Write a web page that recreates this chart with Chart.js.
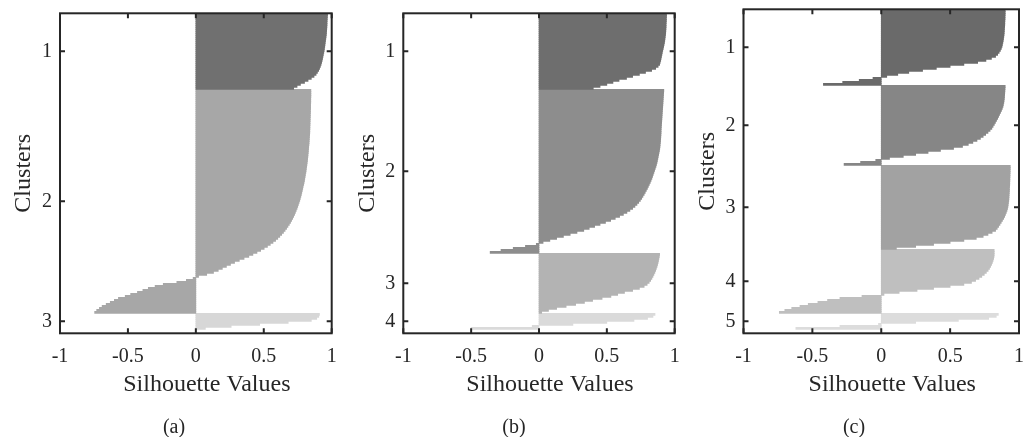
<!DOCTYPE html>
<html>
<head>
<meta charset="utf-8">
<script src="https://cdn.jsdelivr.net/npm/chart.js@4.4.1/dist/chart.umd.min.js"></script>
<style>
  html, body { margin: 0; padding: 0; background: #fff; }
  body { position: relative; width: 1030px; height: 437px; overflow: hidden; font-family: 'Liberation Serif', serif; }
  canvas { position: absolute; top: 0; }
  .cap { position: absolute; top: 414px; width: 100px; text-align: center; font-size: 20px; line-height: 24px; color: #262626; }
</style>
</head>
<body>
<canvas id="chartA" width="340" height="437" style="left:0"></canvas>
<canvas id="chartB" width="340" height="437" style="left:340px"></canvas>
<canvas id="chartC" width="350" height="437" style="left:680px"></canvas>
<div class="cap" style="left:124px">(a)</div>
<div class="cap" style="left:464px">(b)</div>
<div class="cap" style="left:804px">(c)</div>
<script>
// silhouette values, sorted inside each cluster (one bar per row)

// (a) 3 clusters
const clusterNamesA = ['1', '2', '3'];
const silA1 = [0.97, 0.969, 0.968, 0.967, 0.966, 0.966, 0.965, 0.964, 0.963, 0.962,
  0.961, 0.959, 0.957, 0.955, 0.953, 0.951, 0.949, 0.947, 0.945, 0.942,
  0.939, 0.936, 0.933, 0.93, 0.926, 0.922, 0.917, 0.911, 0.904, 0.895,
  0.885, 0.87, 0.85, 0.826, 0.8, 0.77, 0.745, 0.72];
const silA2 = [0.847, 0.847, 0.847, 0.847, 0.846, 0.846, 0.846, 0.845, 0.845, 0.845,
  0.844, 0.844, 0.843, 0.843, 0.842, 0.842, 0.841, 0.841, 0.84, 0.84,
  0.839, 0.839, 0.838, 0.837, 0.836, 0.835, 0.834, 0.833, 0.831, 0.83,
  0.829, 0.828, 0.826, 0.825, 0.823, 0.822, 0.82, 0.818, 0.816, 0.814,
  0.812, 0.81, 0.807, 0.805, 0.802, 0.8, 0.797, 0.794, 0.79, 0.787,
  0.784, 0.78, 0.777, 0.773, 0.769, 0.765, 0.76, 0.755, 0.75, 0.745,
  0.739, 0.733, 0.727, 0.72, 0.713, 0.705, 0.697, 0.688, 0.678, 0.668,
  0.657, 0.645, 0.632, 0.618, 0.603, 0.587, 0.568, 0.548, 0.527, 0.503,
  0.477, 0.45, 0.42, 0.39, 0.355, 0.32, 0.285, 0.255, 0.225, 0.195,
  0.165, 0.13, 0.08, 0.02, -0.02, -0.07, -0.14, -0.24, -0.3, -0.35,
  -0.39, -0.43, -0.48, -0.52, -0.57, -0.6, -0.63, -0.66, -0.69, -0.71,
  -0.73, -0.745];
const silA3 = [0.91, 0.905, 0.89, 0.85, 0.68, 0.47, 0.26, 0.07];

// (b) 4 clusters
const clusterNamesB = ['1', '2', '3', '4'];
const silB1 = [0.94, 0.94, 0.939, 0.939, 0.938, 0.937, 0.937, 0.936, 0.935, 0.934,
  0.933, 0.931, 0.929, 0.927, 0.925, 0.922, 0.919, 0.916, 0.912, 0.909,
  0.906, 0.903, 0.9, 0.897, 0.893, 0.889, 0.878, 0.86, 0.83, 0.785,
  0.74, 0.69, 0.645, 0.59, 0.545, 0.5, 0.45, 0.4];
const silB2 = [0.92, 0.919, 0.918, 0.917, 0.916, 0.915, 0.914, 0.913, 0.912, 0.911,
  0.91, 0.909, 0.908, 0.907, 0.906, 0.905, 0.904, 0.903, 0.902, 0.901,
  0.9, 0.9, 0.899, 0.898, 0.897, 0.896, 0.895, 0.893, 0.892, 0.89,
  0.888, 0.885, 0.882, 0.879, 0.876, 0.873, 0.87, 0.866, 0.862, 0.857,
  0.852, 0.847, 0.842, 0.837, 0.832, 0.826, 0.82, 0.813, 0.806, 0.799,
  0.791, 0.783, 0.775, 0.766, 0.757, 0.747, 0.735, 0.722, 0.707, 0.69,
  0.67, 0.648, 0.622, 0.594, 0.562, 0.528, 0.49, 0.45, 0.41, 0.37,
  0.33, 0.28, 0.23, 0.18, 0.13, 0.08, 0.03, -0.02, -0.1, -0.19,
  -0.28, -0.36];
const silB3 = [0.889, 0.887, 0.884, 0.881, 0.878, 0.874, 0.87, 0.865, 0.86, 0.854,
  0.847, 0.84, 0.832, 0.823, 0.812, 0.797, 0.775, 0.74, 0.69, 0.63,
  0.58, 0.53, 0.465, 0.395, 0.335, 0.27, 0.2, 0.13, 0.07, 0.02];
const silB4 = [0.855, 0.84, 0.8, 0.7, 0.5, 0.25, -0.05, -0.5];

// (c) 5 clusters
const clusterNamesC = ['1', '2', '3', '4', '5'];
const silC1 = [0.9, 0.9, 0.9, 0.899, 0.899, 0.898, 0.897, 0.897, 0.896, 0.895,
  0.894, 0.893, 0.892, 0.89, 0.888, 0.886, 0.883, 0.88, 0.877, 0.872,
  0.865, 0.856, 0.845, 0.83, 0.8, 0.76, 0.7, 0.6, 0.5, 0.4,
  0.3, 0.2, 0.12, 0.04, -0.06, -0.16, -0.28, -0.42];
const silC2 = [0.9, 0.899, 0.898, 0.897, 0.896, 0.895, 0.894, 0.892, 0.89, 0.887,
  0.884, 0.879, 0.873, 0.866, 0.859, 0.852, 0.845, 0.837, 0.829, 0.821,
  0.812, 0.803, 0.79, 0.775, 0.758, 0.74, 0.72, 0.695, 0.665, 0.632,
  0.59, 0.525, 0.43, 0.34, 0.25, 0.16, 0.06, -0.04, -0.15, -0.27];
const silC3 = [0.937, 0.937, 0.936, 0.936, 0.935, 0.935, 0.934, 0.934, 0.933, 0.933,
  0.932, 0.931, 0.931, 0.93, 0.929, 0.928, 0.927, 0.926, 0.924, 0.922,
  0.92, 0.917, 0.913, 0.908, 0.902, 0.896, 0.889, 0.88, 0.871, 0.862,
  0.852, 0.842, 0.83, 0.805, 0.775, 0.74, 0.69, 0.6, 0.5, 0.38,
  0.25, 0.11];
const silC4 = [0.82, 0.82, 0.82, 0.819, 0.816, 0.812, 0.807, 0.801, 0.794, 0.786,
  0.776, 0.763, 0.748, 0.73, 0.71, 0.685, 0.655, 0.6, 0.5, 0.38,
  0.26, 0.13, 0.02, -0.14, -0.3, -0.39, -0.46, -0.53, -0.59, -0.65,
  -0.7, -0.74];
const silC5 = [0.85, 0.835, 0.78, 0.56, 0.25, -0.02, -0.3, -0.62];

const greysA = ['#707070', '#a7a7a7', '#d7d7d7'];
const greysB = ['#6e6e6e', '#8d8d8d', '#b3b3b3', '#dadada'];
const greysC = ['#6a6a6a', '#868686', '#a2a2a2', '#bfbfbf', '#dcdcdc'];

const ink = '#262626';
const serif = 'Liberation Serif';

// matlab style box with inward ticks on all four sides, plus the x label
// (matlab puts it a little right of the axis centre)
const matlabFrame = {
    id: 'matlabFrame',
    afterDraw(chart) {
        const {ctx, chartArea: a, scales: {x, y}} = chart;
        ctx.save();
        ctx.strokeStyle = ink;
        ctx.lineWidth = 2;
        ctx.strokeRect(a.left, a.top, a.right - a.left, a.bottom - a.top);
        ctx.beginPath();
        x.ticks.forEach(t => {
            const px = x.getPixelForValue(t.value);
            ctx.moveTo(px, a.bottom);
            ctx.lineTo(px, a.bottom - 5);
            ctx.moveTo(px, a.top);
            ctx.lineTo(px, a.top + 5);
        });
        y.ticks.forEach(t => {
            const py = y.getPixelForValue(t.value);
            ctx.moveTo(a.left, py);
            ctx.lineTo(a.left + 5, py);
            ctx.moveTo(a.right, py);
            ctx.lineTo(a.right - 5, py);
        });
        ctx.stroke();

        ctx.fillStyle = ink;
        ctx.font = '24px "' + serif + '"';
        ctx.textAlign = 'center';
        ctx.textBaseline = 'middle';
        ctx.fillText('Silhouette Values', (a.left + a.right) / 2 + 11, a.bottom + 51);
        ctx.restore();
    }
};

function drawPanel(id, clusters, names, greys, pad) {
    let row = 0;
    const centers = [];
    const datasets = clusters.map((vals, i) => {
        const start = row;
        const data = vals.map(v => ({x: v, y: (row++) + 0.5}));
        centers.push(start + vals.length / 2);
        return {
            data,
            backgroundColor: greys[i],
            borderWidth: 0,
            barPercentage: 1,
            categoryPercentage: 1,
            grouped: false
        };
    });
    const rows = row + 2; // small empty strip under the last cluster

    new Chart(document.getElementById(id), {
        type: 'bar',
        data: {datasets},
        options: {
            indexAxis: 'y',
            responsive: false,
            animation: false,
            devicePixelRatio: 1,
            layout: {padding: pad},
            plugins: {
                legend: {display: false},
                tooltip: {enabled: false}
            },
            scales: {
                x: {
                    type: 'linear',
                    min: -1,
                    max: 1,
                    grid: {display: false, drawTicks: false},
                    border: {display: false},
                    ticks: {stepSize: 0.5, padding: 11, maxRotation: 0, color: ink,
                        font: {family: serif, size: 20}, callback: v => String(v)},
                    afterFit: s => { s.height = 70; s.paddingLeft = 0; s.paddingRight = 0; }
                },
                y: {
                    type: 'linear',
                    min: 0,
                    max: rows,
                    reverse: true,
                    offset: false,
                    grid: {display: false, drawTicks: false},
                    border: {display: false},
                    afterBuildTicks: s => { s.ticks = centers.map(v => ({value: v})); },
                    ticks: {autoSkip: false, padding: 8, color: ink, font: {family: serif, size: 20},
                        callback: (v, i) => names[i]},
                    title: {display: true, text: 'Clusters', color: ink,
                        font: {family: serif, size: 24}, padding: {top: 9.6, bottom: 0}},
                    afterFit: s => { s.width = 60; s.paddingTop = 0; s.paddingBottom = 0; }
                }
            }
        },
        plugins: [matlabFrame]
    });
}

drawPanel('chartA', [silA1, silA2, silA3], clusterNamesA, greysA,
    {left: 0, right: 8.3, top: 13.3, bottom: 33.7});
drawPanel('chartB', [silB1, silB2, silB3, silB4], clusterNamesB, greysB,
    {left: 3.3, right: 5.3, top: 13.3, bottom: 33.7});
drawPanel('chartC', [silC1, silC2, silC3, silC4, silC5], clusterNamesC, greysC,
    {left: 3.5, right: 11, top: 9.3, bottom: 33.7});
</script>
</body>
</html>
